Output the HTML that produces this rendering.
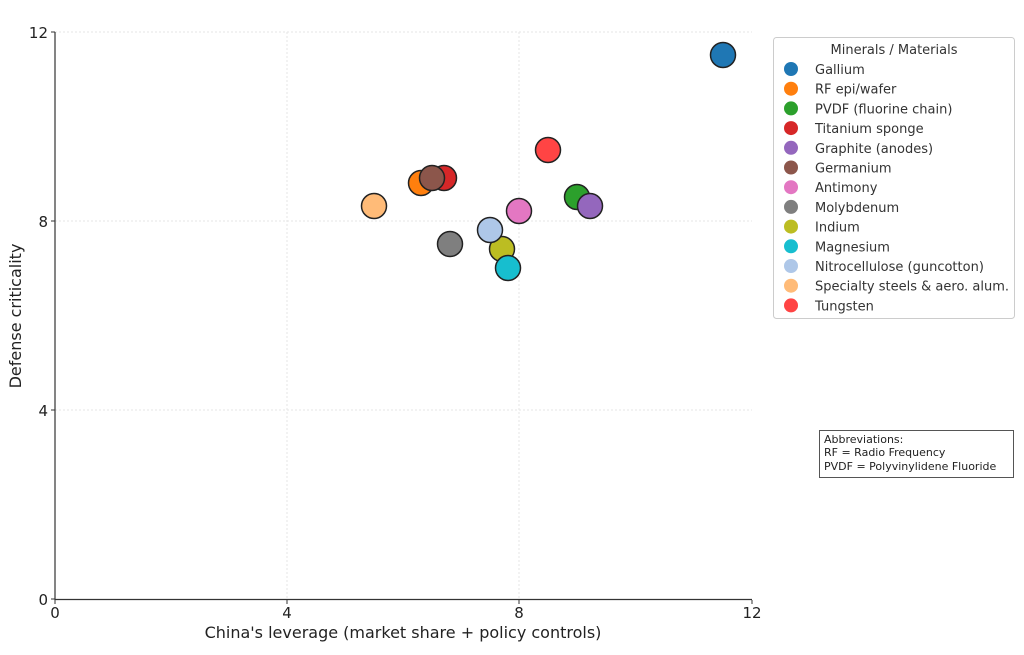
<!DOCTYPE html>
<html><head><meta charset="utf-8"><style>
html,body{margin:0;padding:0;background:#fff;}
text{font-family:"DejaVu Sans","Liberation Sans",sans-serif;}
</style></head><body>
<svg width="1024" height="650" xmlns="http://www.w3.org/2000/svg">
<rect width="1024" height="650" fill="#fff"/>
<g stroke="#e6e6e6" stroke-dasharray="2,2" stroke-width="1">
<line x1="287" y1="32" x2="287" y2="599"/>
<line x1="519" y1="32" x2="519" y2="599"/>
<line x1="55" y1="410" x2="752" y2="410"/>
<line x1="55" y1="221" x2="752" y2="221"/>
<line x1="55" y1="32" x2="752" y2="32"/>
</g>
<line x1="55" y1="32" x2="55" y2="600" stroke="#333" stroke-width="1.2"/>
<line x1="55" y1="599.5" x2="752" y2="599.5" stroke="#333" stroke-width="1.2"/>
<g stroke="#333"><line x1="55" y1="600" x2="55" y2="604"/><line x1="287" y1="600" x2="287" y2="604"/><line x1="519" y1="600" x2="519" y2="604"/><line x1="752" y1="600" x2="752" y2="604"/>
<line x1="51" y1="599" x2="55" y2="599"/><line x1="51" y1="410" x2="55" y2="410"/><line x1="51" y1="221" x2="55" y2="221"/><line x1="51" y1="32" x2="55" y2="32"/></g>
<g font-size="15" fill="#222" text-anchor="middle">
<text x="55" y="618">0</text><text x="287" y="618">4</text><text x="519" y="618">8</text><text x="752" y="618">12</text>
<text x="403" y="638" font-size="16">China's leverage (market share + policy controls)</text>
</g>
<g font-size="15" fill="#222" text-anchor="end">
<text x="48" y="605">0</text><text x="48" y="416">4</text><text x="48" y="227">8</text><text x="48" y="38">12</text>
</g>
<text transform="translate(21,316) rotate(-90)" font-size="16" fill="#222" text-anchor="middle">Defense criticality</text>
<g stroke="#222" stroke-width="1.5">
<circle cx="723" cy="55" r="12.5" fill="#1f77b4"/>
<circle cx="421" cy="183" r="12.5" fill="#ff7f0e"/>
<circle cx="577" cy="197" r="12.5" fill="#2ca02c"/>
<circle cx="444" cy="178" r="12.5" fill="#d62728"/>
<circle cx="590" cy="206" r="12.5" fill="#9467bd"/>
<circle cx="432" cy="178" r="12.5" fill="#8c564b"/>
<circle cx="519" cy="211" r="12.5" fill="#e377c2"/>
<circle cx="450" cy="244" r="12.5" fill="#7f7f7f"/>
<circle cx="502" cy="249" r="12.5" fill="#bcbd22"/>
<circle cx="508" cy="268" r="12.5" fill="#17becf"/>
<circle cx="490" cy="230" r="12.5" fill="#aec7e8"/>
<circle cx="374" cy="206" r="12.5" fill="#ffbb78"/>
<circle cx="548" cy="150" r="12.5" fill="#ff4444"/>
</g>
<rect x="773.5" y="37.5" width="241" height="281" rx="3" fill="#fff" stroke="#ccc"/>
<text x="894" y="54" font-size="13" fill="#333" text-anchor="middle">Minerals / Materials</text>
<g font-size="13" fill="#333">
<circle cx="791" cy="69" r="7" fill="#1f77b4"/><text x="815" y="74">Gallium</text>
<circle cx="791" cy="88.7" r="7" fill="#ff7f0e"/><text x="815" y="93.7">RF epi/wafer</text>
<circle cx="791" cy="108.4" r="7" fill="#2ca02c"/><text x="815" y="113.4">PVDF (fluorine chain)</text>
<circle cx="791" cy="128.1" r="7" fill="#d62728"/><text x="815" y="133.1">Titanium sponge</text>
<circle cx="791" cy="147.8" r="7" fill="#9467bd"/><text x="815" y="152.8">Graphite (anodes)</text>
<circle cx="791" cy="167.5" r="7" fill="#8c564b"/><text x="815" y="172.5">Germanium</text>
<circle cx="791" cy="187.2" r="7" fill="#e377c2"/><text x="815" y="192.2">Antimony</text>
<circle cx="791" cy="206.9" r="7" fill="#7f7f7f"/><text x="815" y="211.9">Molybdenum</text>
<circle cx="791" cy="226.6" r="7" fill="#bcbd22"/><text x="815" y="231.6">Indium</text>
<circle cx="791" cy="246.3" r="7" fill="#17becf"/><text x="815" y="251.3">Magnesium</text>
<circle cx="791" cy="266" r="7" fill="#aec7e8"/><text x="815" y="271">Nitrocellulose (guncotton)</text>
<circle cx="791" cy="285.7" r="7" fill="#ffbb78"/><text x="815" y="290.7">Specialty steels &amp; aero. alum.</text>
<circle cx="791" cy="305.4" r="7" fill="#ff4444"/><text x="815" y="310.4">Tungsten</text>
</g>
<rect x="819.5" y="430.5" width="194" height="47" fill="#fff" stroke="#555"/>
<g font-size="11" fill="#222">
<text x="824" y="443">Abbreviations:</text>
<text x="824" y="456">RF = Radio Frequency</text>
<text x="824" y="470">PVDF = Polyvinylidene Fluoride</text>
</g>
</svg>
</body></html>
